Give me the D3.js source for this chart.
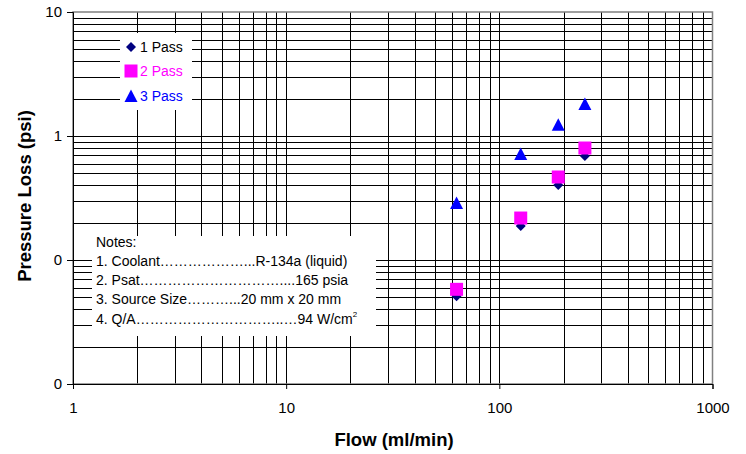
<!DOCTYPE html>
<html><head><meta charset="utf-8">
<script src="https://cdn.jsdelivr.net/npm/d3@7/dist/d3.min.js"></script>
<style>body{margin:0;background:#fff}svg{display:block}text{font-family:"Liberation Sans",Arial,sans-serif}</style>
</head><body><svg id="c" width="746" height="454"></svg>
<script>
const flow = [63, 126, 189, 252];
const pass1 = [0.051, 0.188, 0.403, 0.69];
const pass2 = [0.058, 0.218, 0.467, 0.80];
const pass3 = [0.288, 0.716, 1.23, 1.81];
const xTickValues = [1, 10, 100, 1000];
const xTickLabels = ["1", "10", "100", "1000"];
const yTickValues = [0.01, 0.1, 1, 10];
const yTickLabels = ["0", "0", "1", "10"];
const seriesNames = ["1 Pass", "2 Pass", "3 Pass"];
const notes = ["Notes:", "1. Coolant\u2026\u2026\u2026\u2026\u2026\u2026...R-134a (liquid)",
  "2. Psat\u2026\u2026\u2026\u2026\u2026\u2026\u2026\u2026\u2026\u2026....165 psia",
  "3. Source Size\u2026\u2026\u2026...20 mm x 20 mm",
  "4. Q/A\u2026\u2026\u2026\u2026\u2026\u2026\u2026\u2026\u2026\u2026..\u202694 W/cm"];

const svg = d3.select("#c");
const L = 73, R = 712.5, T = 12, B = 384;
const x = d3.scaleLog().domain([1, 1000]).range([L, R]);
const y = d3.scaleLog().domain([0.01, 10]).range([B, T]);

// grid
const xg = [], yg = [];
for (let d = 1; d < 1000; d *= 10) for (let k = 1; k <= 9; k++) xg.push(d * k);
for (let d = 0.01; d < 9; d *= 10) for (let k = 1; k <= 9; k++) yg.push(d * k);
const g = svg.append("g");
g.selectAll(".vx").data(xg.filter(v => v > 1)).enter().append("line")
  .attr("x1", d => Math.round(x(d)) + 0.5).attr("x2", d => Math.round(x(d)) + 0.5)
  .attr("y1", T).attr("y2", B).attr("stroke", "#000").attr("stroke-width", 1);
g.selectAll(".hy").data(yg.filter(v => v > 0.011)).enter().append("line")
  .attr("y1", d => Math.round(y(d)) + 0.5).attr("y2", d => Math.round(y(d)) + 0.5)
  .attr("x1", L).attr("x2", R).attr("stroke", "#000").attr("stroke-width", 1);

// frame
svg.append("rect").attr("x", L).attr("y", T).attr("width", R - L).attr("height", B - T)
  .attr("fill", "none").attr("stroke", "#808080").attr("stroke-width", 1.5);

// axes
const xAxis = d3.axisBottom(x).tickValues(xTickValues).tickFormat((d, i) => xTickLabels[i]).tickSize(5).tickPadding(13);
const yAxis = d3.axisLeft(y).tickValues(yTickValues).tickFormat((d, i) => yTickLabels[i]).tickSize(6).tickPadding(5);
const ga = svg.append("g").attr("transform", `translate(0,${B})`).call(xAxis);
const gy = svg.append("g").attr("transform", `translate(${L},0)`).call(yAxis);
[ga, gy].forEach(a => {
  a.select(".domain").attr("stroke", "#000");
  a.selectAll("line").attr("stroke", "#000");
  a.selectAll("text").attr("font-size", 15).attr("fill", "#000").style("font-family", "Liberation Sans, Arial, sans-serif");
});

// legend box
svg.append("rect").attr("x", 120).attr("y", 33).attr("width", 72).attr("height", 77).attr("fill", "#fff");
// notes box
svg.append("rect").attr("x", 92).attr("y", 236).attr("width", 284).attr("height", 100).attr("fill", "#fff");

const colors = ["#000080", "#FF00FF", "#0000FF"];
const data = [pass1, pass2, pass3];

function marker(sel, i) {
  if (i === 0) {
    sel.append("path").attr("d", "M0,-5L5,0L0,5L-5,0Z").attr("fill", colors[0]);
  } else if (i === 1) {
    sel.append("rect").attr("x", -6.5).attr("y", -6.5).attr("width", 13).attr("height", 13).attr("fill", colors[1]);
  } else {
    sel.append("path").attr("d", "M0,-6.5L6.5,6L-6.5,6Z").attr("fill", colors[2]);
  }
}

data.forEach((s, i) => {
  s.forEach((v, j) => {
    const gm = svg.append("g").attr("transform", `translate(${x(flow[j])},${y(v)})`);
    marker(gm, i);
  });
});

// legend entries
const ly = [47, 71, 96];
seriesNames.forEach((n, i) => {
  const gm = svg.append("g").attr("transform", `translate(131,${ly[i]})`);
  marker(gm, i);
  svg.append("text").attr("x", 140).attr("y", ly[i] + 5).attr("font-size", 14)
    .attr("fill", i === 0 ? "#000" : colors[i]).text(n);
});

// notes
const ny = [247, 266, 285, 304, 324];
notes.forEach((t, i) => {
  const tx = svg.append("text").attr("x", 96).attr("y", ny[i]).attr("font-size", 14).attr("fill", "#000").text(t);
  if (i === notes.length - 1) {
    tx.append("tspan").attr("font-size", 8).attr("dx", 0).attr("dy", -7).text("2");
  }
});

// axis titles
svg.append("text").attr("x", 394).attr("y", 446).attr("text-anchor", "middle")
  .attr("font-size", 18.5).attr("font-weight", "bold").text("Flow (ml/min)");
svg.append("text").attr("transform", "translate(31,196) rotate(-90)").attr("text-anchor", "middle")
  .attr("font-size", 18.5).attr("font-weight", "bold").text("Pressure Loss (psi)");
</script></body></html>
